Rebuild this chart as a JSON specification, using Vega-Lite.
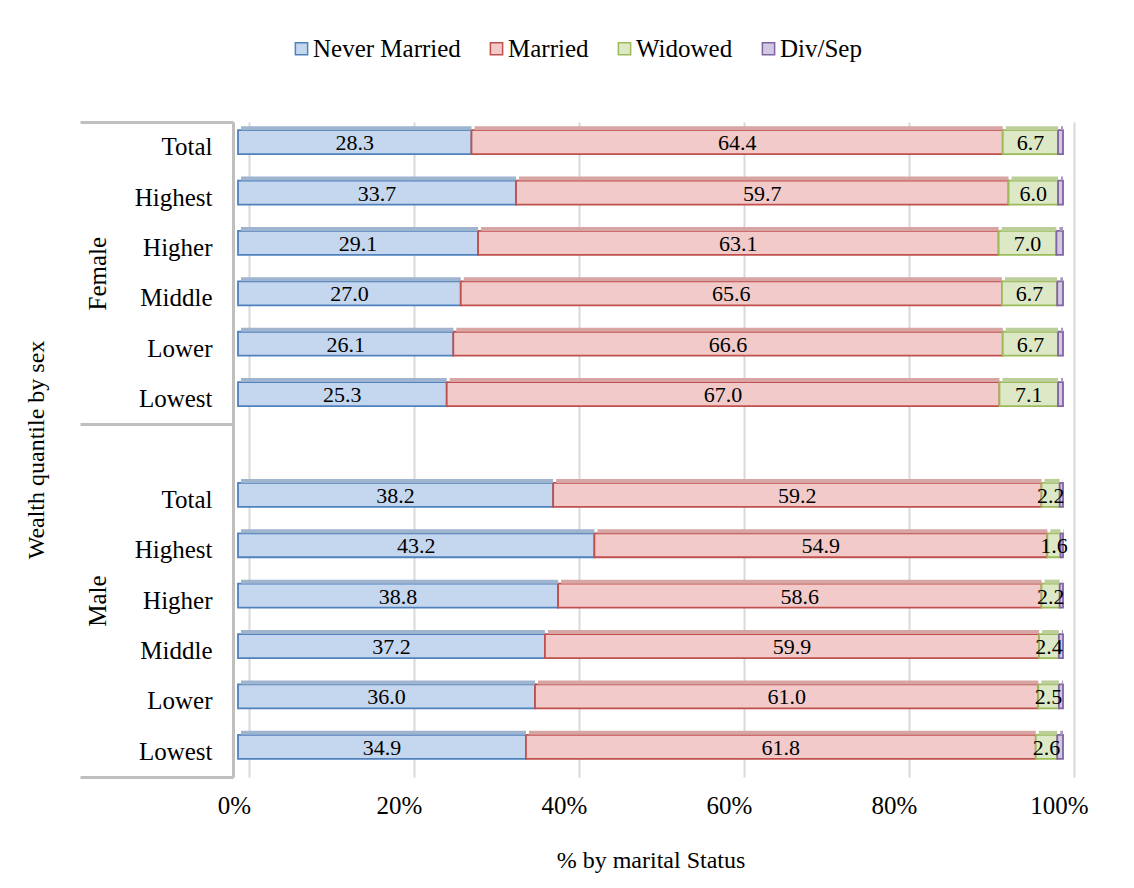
{
  "$schema": "https://vega.github.io/schema/vega-lite/v6.json",
  "width": 825,
  "height": 655,
  "autosize": {"type": "none"},
  "padding": {"left": 238, "top": 122, "right": 71, "bottom": 111},
  "background": "white",
  "config": {
    "view": {"stroke": null},
    "font": "Liberation Serif",
    "axis": {"labelFont": "Liberation Serif", "titleFont": "Liberation Serif", "labelColor": "#000000", "titleColor": "#000000", "titleFontWeight": "normal"},
    "legend": {"labelFont": "Liberation Serif", "labelColor": "#000000"}
  },
  "layer": [
    {
      "data": {
        "values": [
          {"key": "F|Total", "status": "Never Married", "value": 28.3},
          {"key": "F|Total", "status": "Married", "value": 64.4},
          {"key": "F|Total", "status": "Widowed", "value": 6.7},
          {"key": "F|Total", "status": "Div/Sep", "value": 0.6},
          {"key": "F|Highest", "status": "Never Married", "value": 33.7},
          {"key": "F|Highest", "status": "Married", "value": 59.7},
          {"key": "F|Highest", "status": "Widowed", "value": 6.0},
          {"key": "F|Highest", "status": "Div/Sep", "value": 0.6},
          {"key": "F|Higher", "status": "Never Married", "value": 29.1},
          {"key": "F|Higher", "status": "Married", "value": 63.1},
          {"key": "F|Higher", "status": "Widowed", "value": 7.0},
          {"key": "F|Higher", "status": "Div/Sep", "value": 0.8},
          {"key": "F|Middle", "status": "Never Married", "value": 27.0},
          {"key": "F|Middle", "status": "Married", "value": 65.6},
          {"key": "F|Middle", "status": "Widowed", "value": 6.7},
          {"key": "F|Middle", "status": "Div/Sep", "value": 0.7},
          {"key": "F|Lower", "status": "Never Married", "value": 26.1},
          {"key": "F|Lower", "status": "Married", "value": 66.6},
          {"key": "F|Lower", "status": "Widowed", "value": 6.7},
          {"key": "F|Lower", "status": "Div/Sep", "value": 0.6},
          {"key": "F|Lowest", "status": "Never Married", "value": 25.3},
          {"key": "F|Lowest", "status": "Married", "value": 67.0},
          {"key": "F|Lowest", "status": "Widowed", "value": 7.1},
          {"key": "F|Lowest", "status": "Div/Sep", "value": 0.6},
          {"key": "M|Total", "status": "Never Married", "value": 38.2},
          {"key": "M|Total", "status": "Married", "value": 59.2},
          {"key": "M|Total", "status": "Widowed", "value": 2.2},
          {"key": "M|Total", "status": "Div/Sep", "value": 0.4},
          {"key": "M|Highest", "status": "Never Married", "value": 43.2},
          {"key": "M|Highest", "status": "Married", "value": 54.9},
          {"key": "M|Highest", "status": "Widowed", "value": 1.6},
          {"key": "M|Highest", "status": "Div/Sep", "value": 0.3},
          {"key": "M|Higher", "status": "Never Married", "value": 38.8},
          {"key": "M|Higher", "status": "Married", "value": 58.6},
          {"key": "M|Higher", "status": "Widowed", "value": 2.2},
          {"key": "M|Higher", "status": "Div/Sep", "value": 0.4},
          {"key": "M|Middle", "status": "Never Married", "value": 37.2},
          {"key": "M|Middle", "status": "Married", "value": 59.9},
          {"key": "M|Middle", "status": "Widowed", "value": 2.4},
          {"key": "M|Middle", "status": "Div/Sep", "value": 0.5},
          {"key": "M|Lower", "status": "Never Married", "value": 36.0},
          {"key": "M|Lower", "status": "Married", "value": 61.0},
          {"key": "M|Lower", "status": "Widowed", "value": 2.5},
          {"key": "M|Lower", "status": "Div/Sep", "value": 0.5},
          {"key": "M|Lowest", "status": "Never Married", "value": 34.9},
          {"key": "M|Lowest", "status": "Married", "value": 61.8},
          {"key": "M|Lowest", "status": "Widowed", "value": 2.6},
          {"key": "M|Lowest", "status": "Div/Sep", "value": 0.7}
        ]
      },
      "transform": [
        {"calculate": "indexof(['Never Married','Married','Widowed','Div/Sep'], datum.status)", "as": "ord"},
        {"stack": "value", "groupby": ["key"], "offset": "normalize", "sort": [{"field": "ord", "order": "ascending"}], "as": ["v0", "v1"]},
        {"calculate": "(datum.v0 + datum.v1) / 2", "as": "mid"}
      ],
      "encoding": {
        "y": {
          "field": "key",
          "type": "nominal",
          "sort": null,
          "scale": {
            "domain": ["F|Total", "F|Highest", "F|Higher", "F|Middle", "F|Lower", "F|Lowest", "M|", "M|Total", "M|Highest", "M|Higher", "M|Middle", "M|Lower", "M|Lowest"],
            "paddingInner": 0.524,
            "paddingOuter": 0.262
          },
          "axis": {
            "orient": "left",
            "title": null,
            "labelExpr": "split(datum.value, '|')[1]",
            "labelFontSize": 25,
            "labelPadding": 21,
            "ticks": false,
            "tickSize": 0,
            "domainColor": "#bfbfbf",
            "domainWidth": 3,
            "offset": 5,
            "grid": false
          }
        }
      },
      "layer": [
        {
          "mark": {"type": "bar", "strokeWidth": 1.8, "yOffset": -5},
          "encoding": {
            "x": {
              "field": "v0",
              "type": "quantitative",
              "scale": {"domain": [0, 1], "nice": false},
              "axis": {
                "values": [0, 0.2, 0.4, 0.6, 0.8, 1],
                "format": ".0%",
                "title": "% by marital Status",
                "titleFontSize": 24,
                "titlePadding": 30,
                "labelFontSize": 25,
                "labelPadding": 16,
                "labelFlush": false,
                "ticks": false,
                "tickSize": 0,
                "domain": false,
                "grid": true,
                "gridColor": "#d9d9d9",
                "gridWidth": 2,
                "tickOffset": 11,
                "labelOffset": -15
              }
            },
            "x2": {"field": "v1"},
            "fill": {
              "field": "status",
              "type": "nominal",
              "scale": {
                "domain": ["Never Married", "Married", "Widowed", "Div/Sep"],
                "range": ["#c5d7ee", "#f1cac9", "#dde9c6", "#d3c8e2"]
              },
              "legend": {
                "orient": "none",
                "legendX": 51,
                "legendY": -86,
                "direction": "horizontal",
                "title": null,
                "symbolType": "square",
                "symbolSize": 150,
                "symbolStrokeWidth": 1.5,
                "labelFontSize": 25,
                "labelOffset": -1,
                "columnPadding": 23
              }
            },
            "stroke": {
              "field": "status",
              "type": "nominal",
              "scale": {
                "domain": ["Never Married", "Married", "Widowed", "Div/Sep"],
                "range": ["#4f81bd", "#c0504d", "#9bbb59", "#8064a2"]
              },
              "legend": {
                "orient": "none",
                "legendX": 51,
                "legendY": -86,
                "direction": "horizontal",
                "title": null,
                "symbolType": "square",
                "symbolSize": 150,
                "symbolStrokeWidth": 1.5,
                "labelFontSize": 25,
                "labelOffset": -1,
                "columnPadding": 23
              }
            },
            "order": {"field": "ord", "type": "quantitative"}
          }
        },
        {
          "mark": {"type": "bar", "height": 4, "yOffset": -19, "xOffset": 3, "strokeWidth": 0},
          "encoding": {
            "x": {"field": "v0", "type": "quantitative"},
            "x2": {"field": "v1"},
            "color": {
              "field": "status",
              "type": "nominal",
              "scale": {
                "domain": ["Never Married", "Married", "Widowed", "Div/Sep"],
                "range": ["#9fb4cf", "#d7a5a4", "#bccf9a", "#a898c2"]
              },
              "legend": null
            }
          }
        },
        {
          "transform": [{"filter": "datum.status != 'Div/Sep'"}],
          "mark": {"type": "text", "fontSize": 22, "font": "Liberation Serif", "color": "#000000", "baseline": "middle", "align": "center", "yOffset": -4},
          "encoding": {
            "x": {"field": "mid", "type": "quantitative"},
            "text": {"field": "value", "type": "quantitative", "format": ".1f"}
          }
        }
      ]
    },
    {
      "data": {"values": [{"pos": 0}, {"pos": 13}]},
      "mark": {"type": "point", "opacity": 0},
      "encoding": {
        "y": {
          "field": "pos",
          "type": "quantitative",
          "scale": {"domain": [0, 13], "reverse": true, "nice": false, "zero": false},
          "axis": {
            "orient": "left",
            "values": [0, 3, 6, 9.5, 13],
            "labelExpr": "datum.value == 3 ? 'Female' : (datum.value == 9.5 ? 'Male' : '')",
            "labelAngle": -90,
            "labelAlign": "center",
            "labelBaseline": "middle",
            "labelFontSize": 25,
            "labelPadding": -17,
            "tickSize": 153,
            "tickColor": "#bfbfbf",
            "tickWidth": 3,
            "tickOpacity": {"condition": {"test": "datum.value == 3 || datum.value == 9.5", "value": 0}, "value": 1},
            "domain": false,
            "grid": false,
            "offset": 5,
            "title": "Wealth quantile by sex",
            "titleFontSize": 24,
            "titlePadding": 30
          }
        }
      }
    }
  ],
  "resolve": {"scale": {"y": "independent"}, "axis": {"y": "independent"}}
}
